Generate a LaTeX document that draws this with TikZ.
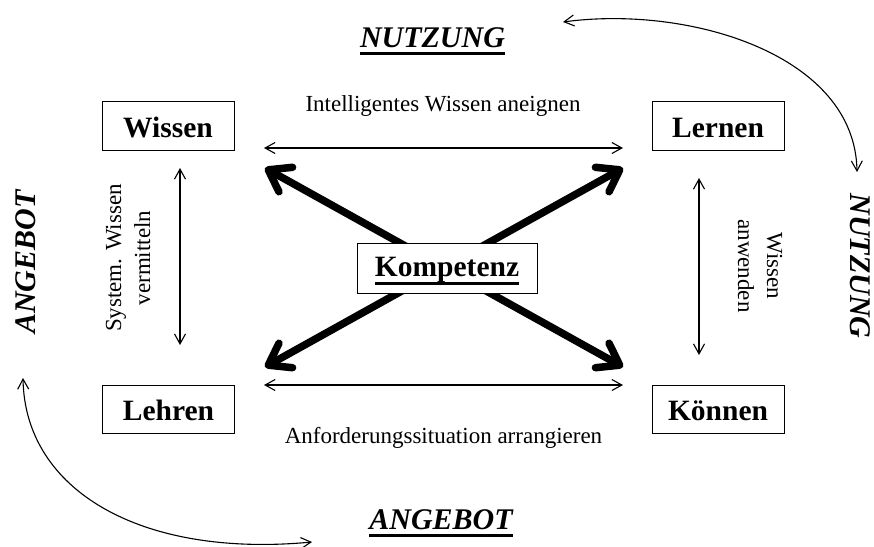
\documentclass[tikz,border=0pt]{standalone}
\usepackage{fontspec}
\setmainfont{Liberation Serif}
\usetikzlibrary{arrows.meta}
\newcommand\ulword[1]{\setbox0=\hbox{#1}\leavevmode\rlap{\raisebox{-8pt}[0pt][0pt]{\rule{\wd0}{3pt}}}\box0}
\tikzset{
  boxnode/.style={draw, line width=1pt, minimum width=132pt, minimum height=48.5pt, inner sep=0pt,
    font=\fontsize{29.5}{32}\selectfont\bfseries, text height=22pt, text depth=0pt},
  lbl/.style={font=\fontsize{23}{29}\selectfont, inner sep=0pt, align=center},
  bigword/.style={font=\fontsize{30}{32}\selectfont\bfseries\itshape, inner sep=0pt},
  thinarr/.style={line width=1.1pt, >={Straight Barb[length=10pt,width=11pt]}, <->},
  thickarr/.style={line width=7.5pt, >={Straight Barb[length=20pt,width=28pt,round]}, <->},
  curvarr/.style={line width=1.1pt, >={Straight Barb[length=10pt,width=11pt]}, <->}
}
\begin{document}
\begin{tikzpicture}[x=1pt,y=-1pt]
\useasboundingbox (0,0) rectangle (874,546);
% arrow end coordinates
\coordinate (a1) at (264,148); \coordinate (a2) at (623,148);
\coordinate (b1) at (264,385); \coordinate (b2) at (623,385);
\coordinate (c1) at (180,168); \coordinate (c2) at (180,345);
\coordinate (d1) at (699,178); \coordinate (d2) at (699,355);
\coordinate (t1) at (265,168); \coordinate (t2) at (623,367);
\coordinate (t3) at (623,168); \coordinate (t4) at (265,367);
\coordinate (e1) at (563,22);  \coordinate (e2) at (857,172);
\coordinate (f1) at (23,378);  \coordinate (f2) at (312,542);
% thick arrows (behind the centre box)
\draw[thickarr] (t1) -- (t2);
\draw[thickarr] (t3) -- (t4);
% nodes
\node[boxnode] (wissen) at (168,126) {Wissen};
\node[boxnode] (lernen) at (718,126) {Lernen};
\node[boxnode] (lehren) at (168.5,409.5) {Lehren};
\node[boxnode] (koennen) at (718,409.5) {Können};
\node[boxnode, fill=white, minimum width=180pt, minimum height=50pt, text height=20pt, text depth=2.6pt] (komp) at (447,268) {\ulword{Kompetenz}};
% thin arrows
\draw[thinarr] (a1) -- (a2);
\draw[thinarr] (b1) -- (b2);
\draw[thinarr] (c1) -- (c2);
\draw[thinarr] (d1) -- (d2);
% curved arrows
\draw[curvarr] (e1) .. controls (690,5) and (855,55) .. (e2);
\draw[curvarr] (f1) .. controls (25,490) and (140,558) .. (f2);
% labels
\node[lbl, anchor=base] (l1) at (443,111) {Intelligentes Wissen aneignen};
\node[lbl, anchor=base] (l2) at (443.5,443) {Anforderungssituation arrangieren};
\node[lbl, rotate=90] (l3) at (128,258) {System. Wissen\\vermitteln};
\node[lbl, rotate=-90] (l4) at (760,266) {Wissen\\anwenden};
\node[bigword, anchor=base] (n1) at (432.5,47) {\ulword{NUTZUNG}};
\node[bigword, anchor=base] (n2) at (441,529) {\ulword{ANGEBOT}};
\node[bigword, anchor=base, rotate=90] (n3) at (35,262) {ANGEBOT};
\node[bigword, anchor=base, rotate=-90] (n4) at (850,266) {NUTZUNG};
\end{tikzpicture}
\end{document}
